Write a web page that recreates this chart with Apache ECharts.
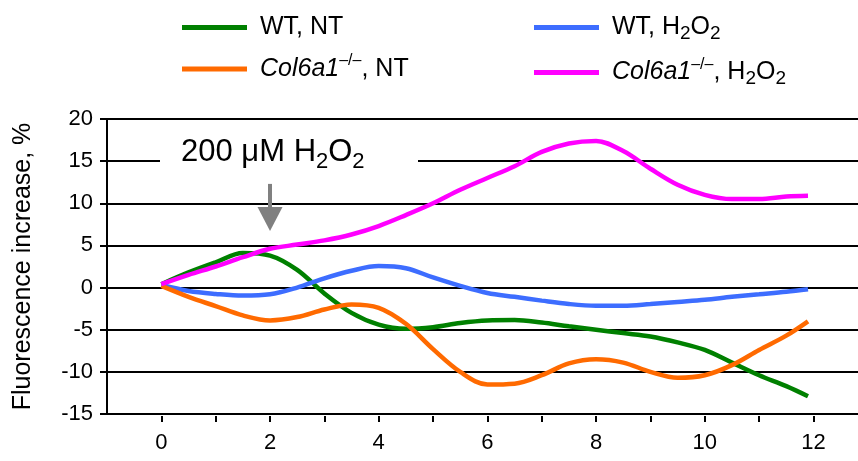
<!DOCTYPE html>
<html>
<head>
<meta charset="utf-8">
<script src="https://cdn.jsdelivr.net/npm/echarts@6/dist/echarts.min.js"></script>
<style>
  html, body { margin: 0; padding: 0; background: #fff; }
  #chart { width: 858px; height: 461px; }
</style>
</head>
<body>
<div id="chart"></div>
<script>
  // time points (x) and % fluorescence increase per group
  const times = [0, 0.5, 1, 1.5, 2, 2.5, 3, 3.5, 4, 4.5, 5, 5.5, 6, 6.5, 7, 7.5, 8, 8.5, 9, 9.5, 10, 10.5, 11, 11.5, 11.9]
  const wtNT = [0.4, 1.8, 3.0, 4.1, 3.8, 2.1, -0.7, -3.0, -4.4, -4.9, -4.7, -4.2, -3.9, -3.85, -4.15, -4.6, -5.0, -5.4, -5.8, -6.5, -7.4, -8.9, -10.4, -11.7, -12.9]
  const wtH2O2 = [0.3, -0.4, -0.75, -0.95, -0.8, 0.0, 1.1, 2.0, 2.55, 2.3, 1.2, 0.2, -0.65, -1.1, -1.55, -1.95, -2.15, -2.15, -1.95, -1.7, -1.45, -1.1, -0.8, -0.5, -0.2]
  const colNT = [0.2, -1.1, -2.2, -3.3, -3.9, -3.5, -2.6, -2.0, -2.4, -4.3, -7.3, -10.0, -11.5, -11.4, -10.4, -9.0, -8.5, -8.9, -10.0, -10.7, -10.4, -9.2, -7.4, -5.7, -4.0]
  const colH2O2 = [0.4, 1.5, 2.5, 3.6, 4.6, 5.1, 5.6, 6.3, 7.3, 8.6, 10.0, 11.6, 13.0, 14.4, 16.1, 17.1, 17.4, 16.2, 14.1, 12.2, 11.0, 10.5, 10.5, 10.8, 10.9]

  const xTicks = [0, 1, 2, 3, 4, 5, 6, 7, 8, 9, 10, 11, 12]
  const xLabels = [0, 2, 4, 6, 8, 10, 12]
  const arrowAt = 2

  const font = '"Liberation Sans", Arial, sans-serif'
  const colors = {
    wtNT: '#008000',
    wtH2O2: '#3d6dff',
    colNT: '#ff6a00',
    colH2O2: '#ff00ff'
  }

  const legendText = {
    'WT, NT': '{n|WT, NT}',
    'WT, H2O2': '{n|WT, H}{sub|2}{n|O}{sub|2}',
    'Col6a1, NT': '{i|Col6a1}{sup|–/–}{n|, NT}',
    'Col6a1, H2O2': '{i|Col6a1}{sup|–/–}{n|, H}{sub|2}{n|O}{sub|2}'
  }

  const legendBase = {
    orient: 'vertical',
    top: 10,
    icon: 'rect',
    itemWidth: 65,
    itemHeight: 5,
    itemGap: 13,
    selectedMode: false,
    formatter: name => legendText[name],
    textStyle: {
      color: '#000',
      fontFamily: font,
      fontSize: 25,
      padding: [0, 0, 0, 8],
      rich: {
        n: { fontSize: 25, lineHeight: 32, fontFamily: font, color: '#000' },
        i: { fontSize: 25, lineHeight: 32, fontStyle: 'italic', fontFamily: font, color: '#000' },
        sup: { fontSize: 16, lineHeight: 26, verticalAlign: 'top', fontFamily: font, color: '#000' },
        sub: { fontSize: 19, lineHeight: 11, verticalAlign: 'bottom', fontFamily: font, color: '#000' }
      }
    }
  }

  function line(name, data, color) {
    return {
      name: name,
      type: 'line',
      data: times.map((t, i) => [t, data[i]]),
      smooth: 0.35,
      showSymbol: false,
      lineStyle: { color: color, width: 4.5 },
      itemStyle: { color: color },
      z: 3
    }
  }

  const chart = echarts.init(document.getElementById('chart'), null, { renderer: 'canvas' })

  const magenta = line('Col6a1, H2O2', colH2O2, colors.colH2O2)
  // arrow marking the H2O2 addition
  magenta.markLine = {
    silent: true,
    animation: false,
    symbol: ['none', 'triangle'],
    symbolSize: [25, 24],
    label: { show: false },
    lineStyle: { color: '#808080', width: 4, type: 'solid' },
    data: [[{ coord: [arrowAt, 12.3] }, { coord: [arrowAt, 8.15] }]]
  }

  chart.setOption({
    animation: false,
    grid: { left: 107, right: 0, top: 119, bottom: 47 },
    legend: [
      Object.assign({}, legendBase, { left: 177, data: ['WT, NT', 'Col6a1, NT'] }),
      Object.assign({}, legendBase, { left: 529, data: ['WT, H2O2', 'Col6a1, H2O2'] })
    ],
    xAxis: {
      type: 'value',
      min: -1,
      max: 12.82,
      offset: 2,
      axisLine: { show: false, onZero: false },
      axisTick: {
        show: true,
        length: 6,
        customValues: xTicks,
        lineStyle: { color: '#000', width: 2 }
      },
      axisLabel: {
        customValues: xLabels,
        margin: 16,
        fontSize: 22,
        color: '#000',
        fontFamily: font
      },
      splitLine: { show: false }
    },
    yAxis: {
      type: 'value',
      min: -15,
      max: 20,
      interval: 5,
      name: 'Fluorescence increase, %',
      nameLocation: 'middle',
      nameGap: 71,
      nameTextStyle: { fontSize: 25, color: '#000', fontFamily: font },
      axisLine: { show: true, onZero: false, lineStyle: { color: '#000', width: 2 } },
      axisTick: { show: true, length: 7, lineStyle: { color: '#000', width: 2 } },
      axisLabel: { margin: 14, fontSize: 22, color: '#000', fontFamily: font },
      splitLine: { show: true, lineStyle: { color: '#000', width: 2 } }
    },
    graphic: [
      {
        type: 'rect',
        z: 10,
        shape: { x: 160, y: 150, width: 258, height: 22 },
        style: { fill: '#fff' }
      },
      {
        type: 'text',
        z: 11,
        left: 181,
        top: 137,
        style: {
          text: '{n|200 μM H}{sub|2}{n|O}{sub|2}',
          fill: '#000',
          rich: {
            n: { fontSize: 31, lineHeight: 40, fontFamily: font, fill: '#000' },
            sub: { fontSize: 22, lineHeight: 19, verticalAlign: 'bottom', fontFamily: font, fill: '#000' }
          }
        }
      }
    ],
    series: [
      line('WT, NT', wtNT, colors.wtNT),
      line('WT, H2O2', wtH2O2, colors.wtH2O2),
      line('Col6a1, NT', colNT, colors.colNT),
      magenta
    ]
  })
</script>
</body>
</html>
